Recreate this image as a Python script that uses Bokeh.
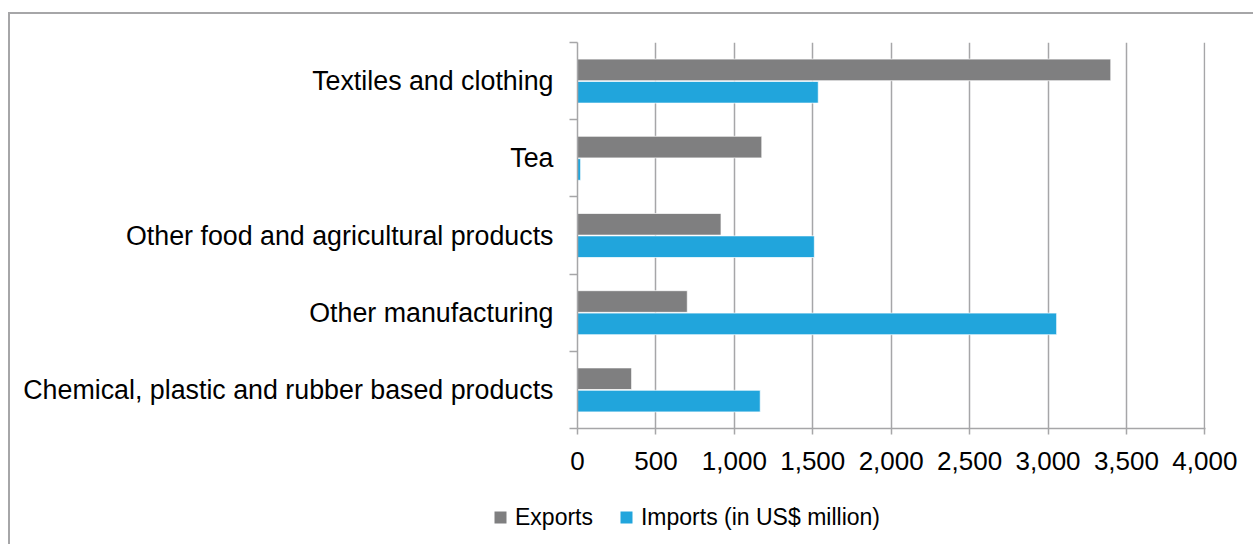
from bokeh.plotting import figure
from bokeh.layouts import column, row
from bokeh.models import (Range1d, FixedTicker, NumeralTickFormatter, Legend,
                          LegendItem, ColumnDataSource)
from bokeh.transform import dodge
from bokeh.embed import file_html
from bokeh.resources import INLINE

# Data (top to bottom as in the chart)
categories = [
    "Textiles and clothing",
    "Tea",
    "Other food and agricultural products",
    "Other manufacturing",
    "Chemical, plastic and rubber based products",
]
exports = [3400, 1175, 915, 700, 345]
imports = [1535, 20, 1510, 3055, 1165]
x_ticks = [0, 500, 1000, 1500, 2000, 2500, 3000, 3500, 4000]
series_names = ["Exports", "Imports (in US$ million)"]

EXP_COLOR = "#7f7f80"
IMP_COLOR = "#21a5dc"
GRID = "#a6a6a8"
FONT = "Liberation Sans"

n = len(categories)
pos = [n - i for i in range(n)]
src = ColumnDataSource(dict(y=pos, cat=categories, exports=exports, imports=imports))

p = figure(width=1243, height=470,
           x_range=Range1d(0, 4004), y_range=Range1d(0.5, n + 0.5),
           output_backend="svg", toolbar_location=None,
           min_border_left=567, min_border_right=48,
           min_border_top=28, min_border_bottom=56)
p.outline_line_color = None
p.background_fill_color = "white"

r_exp = p.hbar(y=dodge("y", 0.145), right="exports", left=0, height=0.28, source=src,
               fill_color=EXP_COLOR, line_color="white", line_alpha=0.7, line_width=1)
r_imp = p.hbar(y=dodge("y", -0.145), right="imports", left=0, height=0.28, source=src,
               fill_color=IMP_COLOR, line_color="white", line_alpha=0.7, line_width=1)

# x axis
p.xaxis.ticker = FixedTicker(ticks=x_ticks, minor_ticks=[])
p.xaxis.formatter = NumeralTickFormatter(format="0,0")
p.xaxis.axis_line_color = GRID
p.xaxis.axis_line_width = 1.5
p.xaxis.major_tick_line_color = GRID
p.xaxis.major_tick_line_width = 1.5
p.xaxis.major_tick_out = 6
p.xaxis.major_tick_in = 0
p.xaxis.major_label_text_font = FONT
p.xaxis.major_label_text_font_size = "26px"
p.xaxis.major_label_text_color = "black"
p.xaxis.major_label_standoff = 17

# y axis
p.yaxis.ticker = FixedTicker(ticks=pos, minor_ticks=[k + 0.5 for k in range(n + 1)])
p.yaxis.major_label_overrides = {pv: c for pv, c in zip(pos, categories)}
p.yaxis.axis_line_color = GRID
p.yaxis.axis_line_width = 1.5
p.yaxis.major_tick_line_color = None
p.yaxis.major_tick_out = 0
p.yaxis.major_tick_in = 0
p.yaxis.minor_tick_line_color = GRID
p.yaxis.minor_tick_line_width = 1.5
p.yaxis.minor_tick_out = 8
p.yaxis.minor_tick_in = 0
p.yaxis.major_label_text_font = FONT
p.yaxis.major_label_text_font_size = "26.8px"
p.yaxis.major_label_text_color = "black"
p.yaxis.major_label_standoff = 16

# grid
p.xgrid.ticker = FixedTicker(ticks=x_ticks, minor_ticks=[])
p.xgrid.grid_line_color = GRID
p.xgrid.grid_line_width = 1.5
p.ygrid.grid_line_color = None

# legend strip
nan = float("nan")
pl = figure(width=1243, height=60, x_range=Range1d(0, 1), y_range=Range1d(0, 1),
            output_backend="svg", toolbar_location=None,
            x_axis_type=None, y_axis_type=None, min_border=0)
pl.outline_line_color = None
pl.grid.visible = False
leg_e = pl.scatter(x=[nan], y=[nan], marker="square", fill_color=EXP_COLOR, line_color=None)
leg_i = pl.scatter(x=[nan], y=[nan], marker="square", fill_color=IMP_COLOR, line_color=None)

legend = Legend(items=[LegendItem(label=series_names[0], renderers=[leg_e]),
                       LegendItem(label=series_names[1], renderers=[leg_i])],
                orientation="horizontal", location=(475, 12),
                padding=0, margin=0, spacing=18, label_standoff=0,
                glyph_width=30, glyph_height=30,
                border_line_color=None, background_fill_alpha=0,
                label_text_font=FONT, label_text_font_size="23px",
                label_text_color="black")
pl.add_layout(legend, "center")

layout = column(p, row(pl), spacing=0)
layout.styles = {"border-top": "2px solid #a6a6a8", "border-left": "2px solid #a6a6a8",
                 "margin-top": "12px", "margin-left": "8px"}

open("out.html", "w").write(file_html(layout, INLINE))
